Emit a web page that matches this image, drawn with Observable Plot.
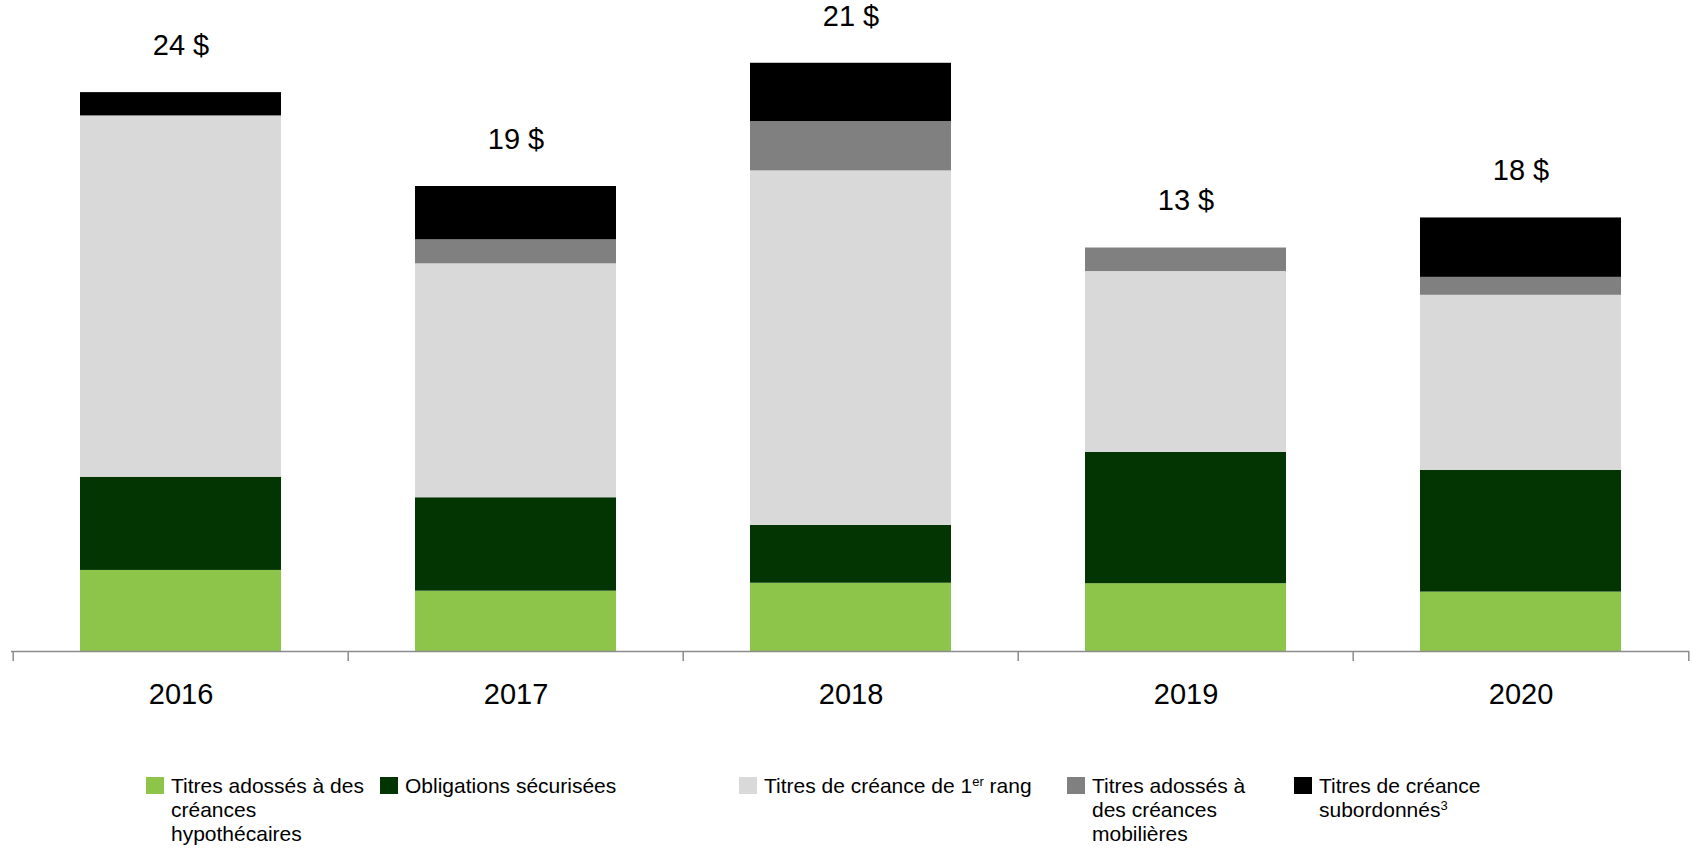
<!DOCTYPE html>
<html><head><meta charset="utf-8">
<script src="https://cdn.jsdelivr.net/npm/d3@7"></script>
<script src="https://cdn.jsdelivr.net/npm/@observablehq/plot@0.6"></script>
<style>
body{margin:0;background:#fff;font-family:"Liberation Sans",Arial,sans-serif;}
#wrap{position:relative;width:1692px;height:848px;overflow:hidden;}
#chart{position:absolute;left:0;top:0;}
.item{position:absolute;top:774px;display:flex;align-items:flex-start;font-size:21px;line-height:24px;color:#000;white-space:nowrap;}
.sw{width:18px;height:17px;margin-right:7px;margin-top:3px;flex:none;}
sup{font-size:13px;line-height:0;vertical-align:7px;}
</style></head><body><div id="wrap"><div id="chart"></div></div>
<script>
const years = ["2016", "2017", "2018", "2019", "2020"];
const series = [
  "Titres adossés à des créances hypothécaires",
  "Obligations sécurisées",
  "Titres de créance de 1er rang",
  "Titres adossés à des créances mobilières",
  "Titres de créance subordonnés"
];
const legendLines = [
  ["Titres adossés à des", "créances", "hypothécaires"],
  ["Obligations sécurisées"],
  ["Titres de créance de 1<sup>er</sup> rang"],
  ["Titres adossés à", "des créances", "mobilières"],
  ["Titres de créance", "subordonnés<sup>3</sup>"]
];
const mbs          = [3.48, 2.59, 2.93, 2.91, 2.55];
const covered      = [4.00, 4.01, 2.48, 5.64, 5.22];
const senior       = [15.51, 10.04, 15.22, 7.76, 7.52];
const abs          = [0.00, 1.03, 2.12, 1.01, 0.77];
const subordinated = [1.00, 2.29, 2.50, 0.00, 2.55];
const totalLabels  = ["24 $", "19 $", "21 $", "13 $", "18 $"];
const colors = ["#8dc54b", "#033503", "#d9d9d9", "#808080", "#000000"];

const seriesValues = [mbs, covered, senior, abs, subordinated];
const data = years.flatMap((y, i) => series.map((s, j) => ({year: y, series: s, value: seriesValues[j][i]})));
const totals = years.map((y, i) => ({year: y, total: d3.sum(seriesValues, v => v[i]), label: totalLabels[i]}));

const W = 1692, mL = 11, mR = 3;
const step = (W - mL - mR) / years.length;
const font = "Liberation Sans, Arial, sans-serif";

const plot = Plot.plot({
  width: W, height: 720,
  marginTop: 22, marginBottom: 69, marginLeft: mL, marginRight: mR,
  x: {domain: years, paddingInner: 0.4, paddingOuter: 0.2, axis: null},
  y: {domain: [0, 27], axis: null},
  color: {domain: series, range: colors},
  style: {fontFamily: font, background: "white", overflow: "visible"},
  marks: [
    Plot.barY(data, {x: "year", y: "value", fill: "series"}),
    Plot.ruleY([0], {stroke: "#8c8c8c", strokeWidth: 1.5}),
    Plot.ruleX(years, {x: d => d, y1: 0, y2: -0.43, dx: -step / 2, stroke: "#8c8c8c", strokeWidth: 1.5}),
    Plot.ruleX(years.slice(-1), {x: d => d, y1: 0, y2: -0.43, dx: step / 2, stroke: "#8c8c8c", strokeWidth: 1.5}),
    Plot.text(years, {x: d => d, y: 0, dy: 43, text: d => d, fontSize: 29, fill: "#000"}),
    Plot.text(totals, {x: "year", y: "total", text: "label", dy: -47, fontSize: 29, fill: "#000"})
  ]
});
document.getElementById("chart").appendChild(plot);

const textLefts = [171, 405, 764, 1092, 1319];
const wrap = document.getElementById("wrap");
series.forEach((s, j) => {
  const it = document.createElement("div");
  it.className = "item";
  it.style.left = (textLefts[j] - 25) + "px";
  it.innerHTML = `<div class="sw" style="background:${colors[j]}"></div><div>${legendLines[j].join("<br>")}</div>`;
  wrap.appendChild(it);
});
</script>
</body></html>
